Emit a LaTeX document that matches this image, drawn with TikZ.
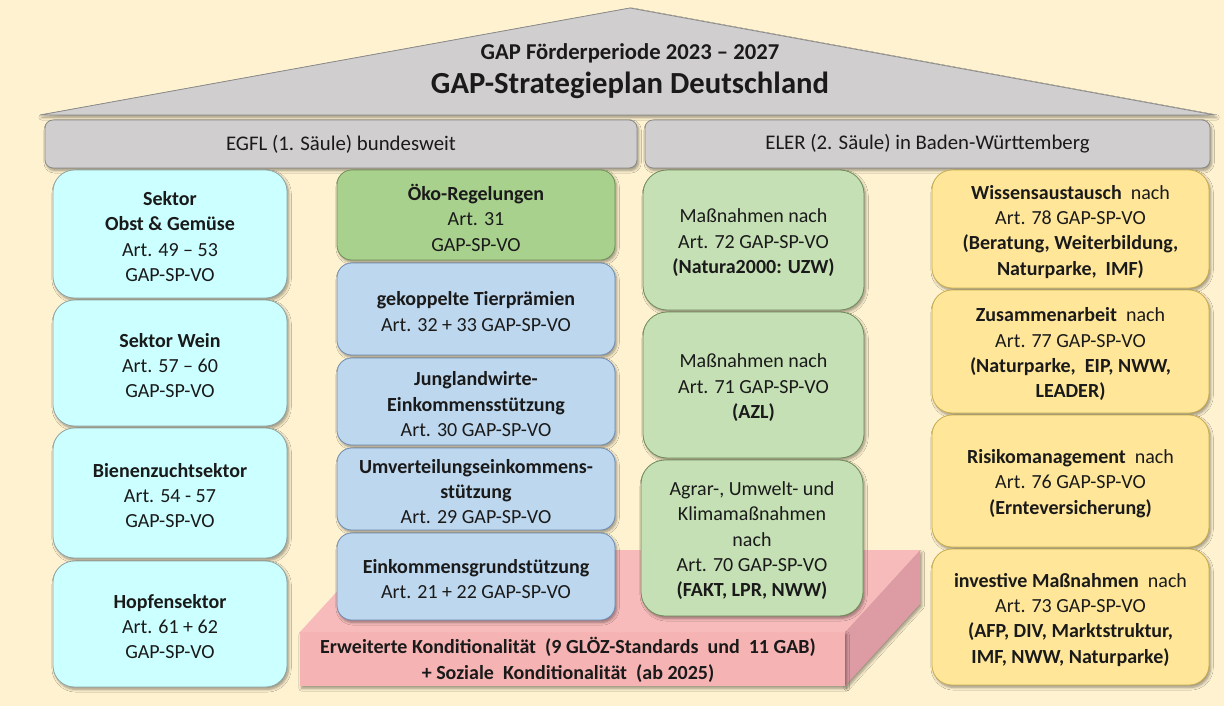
\documentclass[tikz,border=0pt]{standalone}
\usepackage{fontspec}
\setmainfont{Carlito}
\usetikzlibrary{fit,shadows.blur}
\definecolor{bg}{HTML}{FEF2D0}
\definecolor{roofgrey}{HTML}{D0CECE}
\definecolor{greyline}{HTML}{8A8A8A}
\definecolor{cyanfill}{HTML}{CCFFFF}
\definecolor{cyanline}{HTML}{8FA5A5}
\definecolor{ecogreen}{HTML}{A9D18E}
\definecolor{ecoline}{HTML}{6E8F55}
\definecolor{bluefill}{HTML}{BDD7EE}
\definecolor{blueline}{HTML}{6F8DB5}
\definecolor{lgreen}{HTML}{C5E0B4}
\definecolor{lgreenline}{HTML}{6F8A5A}
\definecolor{yellowfill}{HTML}{FFE699}
\definecolor{yellowline}{HTML}{C9AE50}
\definecolor{pinkfront}{HTML}{F6B3B3}
\definecolor{pinktop}{HTML}{F8BBBB}
\definecolor{pinkside}{HTML}{DD9CA4}
\definecolor{txtcol}{HTML}{1A1A1A}
\begin{document}
\begin{tikzpicture}[x=0.75pt,y=-0.75pt,
  txt/.style={font=\fontsize{15}{19}\selectfont, align=center, text=txtcol, inner sep=0pt},
  boxtxt/.style={txt, yshift=-2pt},
  sh/.style={blur shadow={shadow xshift=1.2pt, shadow yshift=-1.8pt, shadow blur radius=2pt, shadow blur steps=6, shadow opacity=40}},
  boxbase/.style={inner sep=0pt, line width=0.6pt, sh},
  barbox/.style={boxbase, fill=roofgrey, draw=greyline, rounded corners=6pt},
  bartxt/.style={txt, font=\fontsize{15.6}{19}\selectfont},
  cyanbox/.style={boxbase, fill=cyanfill, draw=cyanline, rounded corners=16pt},
  ecobox/.style={boxbase, fill=ecogreen, draw=ecoline, rounded corners=11pt},
  bluebox/.style={boxbase, fill=bluefill, draw=blueline, rounded corners=11pt},
  greenbox/.style={boxbase, fill=lgreen, draw=lgreenline, rounded corners=18pt},
  yellowbox/.style={boxbase, fill=yellowfill, draw=yellowline, rounded corners=15pt}
]
\useasboundingbox (0,0) rectangle (1224,706);
\fill[bg] (0,0) rectangle (1224,706);

% roof
\path[draw=greyline, fill=roofgrey, line width=0.6pt, sh] (40,115) -- (630,8) -- (1215,115) -- cycle;
\node[font=\bfseries\fontsize{17}{20}\selectfont, text=txtcol] (period) at (630,53) {GAP Förderperiode 2023 – 2027};
\node[font=\bfseries\fontsize{23}{26}\selectfont, text=txtcol] (title) at (630,85) {GAP-Strategieplan Deutschland};

% pillars header bars
\node[barbox, fit={(45,120)(637,168)}] (egfl) {};
\node[bartxt] (egflt) at (egfl) {EGFL (1. Säule) bundesweit};
\node[barbox, fit={(645,120)(1210,168)}] (eler) {};
\node[bartxt] (elert) at (eler) {ELER (2. Säule) in Baden-Württemberg};

% platform
\path[fill=pinkside, sh] (845,632) -- (920,550) -- (920,604) -- (845,686) -- cycle;
\path[fill=pinkfront, sh] (300,632) rectangle (845,686);
\fill[pinktop] (300,632) -- (845,632) -- (920,550) -- (375,550) -- cycle;
\node[txt, font=\bfseries\fontsize{15}{19.5}\selectfont] (kond) at (568,660) {Erweiterte Konditionalität\ \ (9 GLÖZ-Standards\ \ und\ \ 11 GAB)\\+ Soziale\ \ Konditionalität\ \ (ab 2025)};

% column 1
\node[cyanbox, fit={(53,170)(287,298)}] (s1) {};
\node[boxtxt] (s1t) at (s1) {\textbf{Sektor}\\\textbf{Obst \& Gemüse}\\Art. 49 – 53\\GAP-SP-VO};
\node[cyanbox, fit={(53,300)(287,426)}] (s2) {};
\node[boxtxt] (s2t) at (s2) {\textbf{Sektor Wein}\\Art. 57 – 60\\GAP-SP-VO};
\node[cyanbox, fit={(53,428)(287,558)}] (s3) {};
\node[boxtxt] (s3t) at (s3) {\textbf{Bienenzuchtsektor}\\Art. 54 - 57\\GAP-SP-VO};
\node[cyanbox, fit={(53,561)(287,687)}] (s4) {};
\node[boxtxt] (s4t) at (s4) {\textbf{Hopfensektor}\\Art. 61 + 62\\GAP-SP-VO};

% column 2
\node[ecobox, fit={(337,170)(615,260)}] (e1) {};
\node[boxtxt] (e1t) at (e1) {\textbf{Öko-Regelungen}\\Art. 31\\GAP-SP-VO};
\node[bluebox, fit={(337,263)(615,355)}] (e2) {};
\node[boxtxt] (e2t) at (e2) {\textbf{gekoppelte Tierprämien}\\Art. 32 + 33 GAP-SP-VO};
\node[bluebox, fit={(337,358)(615,445)}] (e3) {};
\node[boxtxt] (e3t) at (e3) {\textbf{Junglandwirte-}\\\textbf{Einkommensstützung}\\Art. 30 GAP-SP-VO};
\node[bluebox, fit={(337,448)(615,530)}] (e4) {};
\node[boxtxt] (e4t) at (e4) {\textbf{Umverteilungseinkommens-}\\\textbf{stützung}\\Art. 29 GAP-SP-VO};
\node[bluebox, fit={(337,533)(615,620)}] (e5) {};
\node[boxtxt] (e5t) at (e5) {\textbf{Einkommensgrundstützung}\\Art. 21 + 22 GAP-SP-VO};

% column 3
\node[greenbox, fit={(643,170)(864,310)}] (m1) {};
\node[boxtxt] (m1t) at (m1) {Maßnahmen nach\\Art. 72 GAP-SP-VO\\\textbf{(Natura2000: UZW)}};
\node[greenbox, fit={(643,312)(864,458)}] (m2) {};
\node[boxtxt] (m2t) at (m2) {Maßnahmen nach\\Art. 71 GAP-SP-VO\\\textbf{(AZL)}};
\node[greenbox, fit={(641,460)(863,616)}] (m3) {};
\node[boxtxt] (m3t) at (m3) {Agrar-, Umwelt- und\\Klimamaßnahmen\\nach\\Art. 70 GAP-SP-VO\\\textbf{(FAKT, LPR, NWW)}};

% column 4
\node[yellowbox, fit={(932,170)(1209,288)}] (y1) {};
\node[boxtxt] (y1t) at (y1) {\textbf{Wissensaustausch}\ \ nach\\Art. 78 GAP-SP-VO\\\textbf{(Beratung, Weiterbildung,}\\\textbf{Naturparke,\ \ IMF)}};
\node[yellowbox, fit={(932,290)(1209,413)}] (y2) {};
\node[boxtxt] (y2t) at (y2) {\textbf{Zusammenarbeit}\ \ nach\\Art. 77 GAP-SP-VO\\\textbf{(Naturparke,\ \ EIP, NWW,}\\\textbf{LEADER)}};
\node[yellowbox, fit={(932,415)(1209,547)}] (y3) {};
\node[boxtxt] (y3t) at (y3) {\textbf{Risikomanagement}\ \ nach\\Art. 76 GAP-SP-VO\\\textbf{(Ernteversicherung)}};
\node[yellowbox, fit={(932,549)(1209,685)}] (y4) {};
\node[boxtxt] (y4t) at (y4) {\textbf{investive Maßnahmen}\ \ nach\\Art. 73 GAP-SP-VO\\\textbf{(AFP, DIV, Marktstruktur,}\\\textbf{IMF, NWW, Naturparke)}};
\end{tikzpicture}
\end{document}
